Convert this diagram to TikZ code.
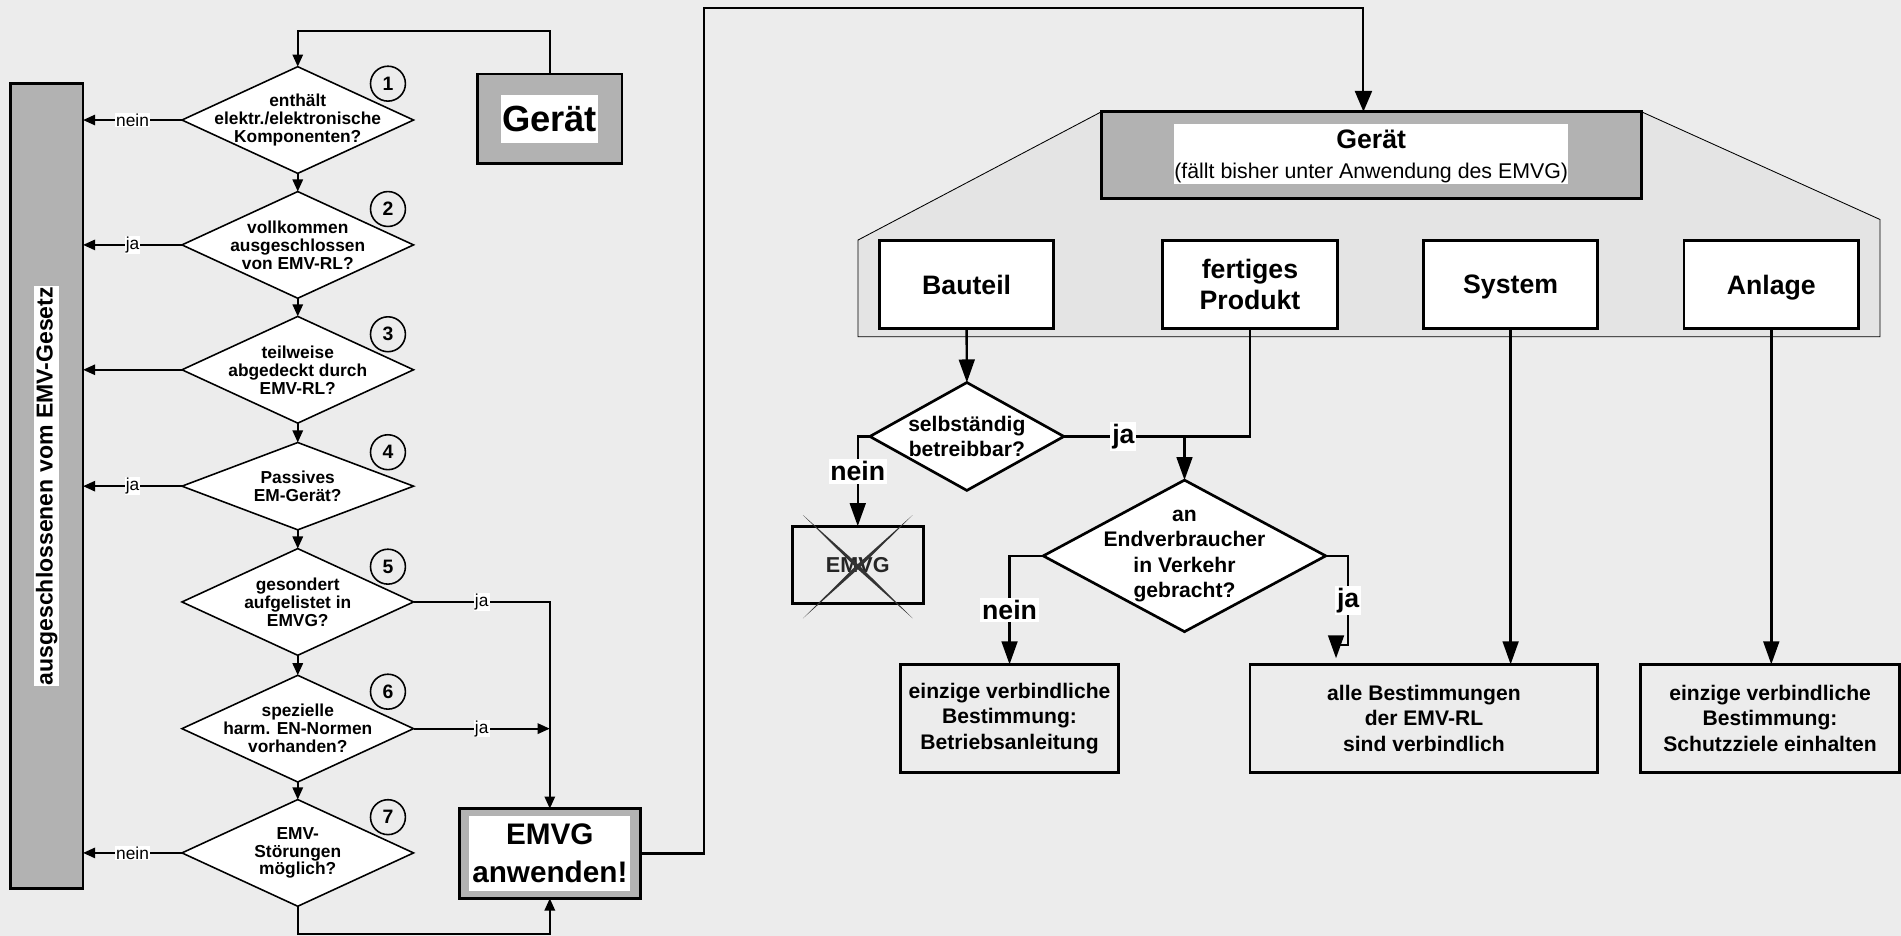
\documentclass[tikz,border=0pt]{standalone}
\usepackage{fontspec}
\setmainfont{Liberation Sans}
\usetikzlibrary{shapes.geometric,arrows.meta,calc}
\definecolor{bg}{RGB}{236,236,236}
\definecolor{trapc}{RGB}{228,228,228}
\definecolor{boxgray}{RGB}{178,178,178}
\newcommand{\fsz}[2]{\fontsize{#1}{#2}\selectfont}
\tikzset{
  dia/.style={diamond, draw, fill=white, line width=1.3pt, inner sep=0pt, outer sep=0pt, minimum width=191pt, minimum height=88pt},
  dtxt/.style={align=center, inner sep=0pt, font=\bfseries\fsz{14.3}{14.8}},
  slab/.style={fill=white, inner xsep=1pt, inner ysep=0.5pt, font=\fsz{14.3}{15}},
  larr/.style={line width=1.7pt, -{Triangle[length=10pt,width=8.5pt]}},
  num/.style={circle, draw, line width=1.3pt, fill=bg, minimum size=28.8pt, inner sep=0pt, font=\bfseries\fsz{16}{16}},
  graybox/.style={draw, fill=boxgray, line width=2.4pt, inner sep=0pt, outer sep=0pt},
  rbox/.style={draw, fill=white, line width=2.4pt, inner sep=0pt, outer sep=0pt, minimum width=144pt, minimum height=72.5pt, align=center, font=\bfseries\fsz{22}{26}},
  resbox/.style={draw, line width=2.4pt, inner sep=0pt, outer sep=0pt, minimum height=89pt, align=center, font=\bfseries\fsz{17.4}{21}},
  rdia/.style={diamond, draw, fill=white, line width=2.2pt, inner sep=0pt, outer sep=0pt},
  rtxt/.style={align=center, inner sep=0pt, font=\bfseries\fsz{17.4}{21}},
  rarr/.style={line width=2pt, -{Triangle[length=19pt,width=13pt]}},
  rline/.style={line width=2pt},
  rlab/.style={fill=white, inner xsep=1.5pt, inner ysep=2pt, font=\bfseries\fsz{22}{22}},
}
\begin{document}
\begin{tikzpicture}[x=1pt,y=-1pt]
\path[use as bounding box, fill=bg] (0,0) rectangle (1568,772);

% ---------- left part ----------
\node[graybox, line width=2.2pt, minimum width=60pt, minimum height=664pt] (bar) at (38.5,401) {};
\node[fill=white, rotate=90, inner xsep=1pt, inner ysep=1.5pt, font=\bfseries\fsz{19}{19}] (bartxt) at (bar.center) {ausgeschlossenen vom EMV-Gesetz};

\node[dia, label={[dtxt]center:{enthält\\elektr./elektronische\\Komponenten?}}] (d1) at (245.6,99) {};
\node[dia, label={[dtxt]center:{vollkommen\\ausgeschlossen\\von EMV-RL?}}] (d2) at (245.6,202) {};
\node[dia, label={[dtxt]center:{teilweise\\abgedeckt durch\\EMV-RL?}}] (d3) at (245.6,305) {};
\node[dia, minimum height=72pt, label={[dtxt]center:{Passives\\EM-Gerät?}}] (d4) at (245.6,401) {};
\node[dia, label={[dtxt]center:{gesondert\\aufgelistet in\\EMVG?}}] (d5) at (245.6,496.5) {};
\node[dia, label={[dtxt]center:{spezielle\\harm. EN-Normen\\vorhanden?}}] (d6) at (245.6,601) {};
\node[dia, label={[dtxt]center:{EMV-\\Störungen\\möglich?}}] (d7) at (245.6,703.5) {};

\foreach \i/\y in {1/69,2/172.4,3/275.7,4/373,5/467.4,6/570.5,7/674}
  \node[num] (n\i) at (320,\y) {\i};

\foreach \a/\b in {d1/d2,d2/d3,d3/d4,d4/d5,d5/d6,d6/d7}
  \draw[larr] (\a.south) -- (\b.north);

\draw[larr] (d1.west) -- node[slab]{nein} (bar.east |- d1.west);
\draw[larr] (d2.west) -- node[slab]{ja} (bar.east |- d2.west);
\draw[larr] (d3.west) -- (bar.east |- d3.west);
\draw[larr] (d4.west) -- node[slab]{ja} (bar.east |- d4.west);
\draw[larr] (d7.west) -- node[slab]{nein} (bar.east |- d7.west);

\node[graybox, minimum width=119.5pt, minimum height=74pt] (g1) at (453.3,98) {};
\node[fill=white, inner xsep=1pt, inner ysep=0pt, minimum height=40pt, font=\bfseries\fsz{30}{30}] (g1t) at (g1.center) {Gerät};
\draw[larr] (g1.north) -- ++(0,-35.7) -| (d1.north);

\node[graybox, minimum width=149pt, minimum height=74pt] (emvg) at (453.5,704) {};
\node[fill=white, inner sep=0pt, minimum width=133pt, minimum height=62pt, align=center, font=\bfseries\fsz{24.5}{31}] (emvgt) at (emvg.center) {EMVG\\anwenden!};

\draw[larr] (d5.east) -- node[slab]{ja} (emvg.north |- d5.east) -- (emvg.north);
\draw[larr] (d6.east) -- node[slab]{ja} (emvg.north |- d6.east);
\draw[larr] (d7.south) -- ++(0,23) -| (emvg.south);

% ---------- right part ----------
\draw[fill=trapc, line width=0.7pt] (707.7,277.7) -- (707.7,198) -- (908.8,92) -- (1353.5,92) -- (1550.6,181) -- (1550.6,277.7) -- cycle;

\node[graybox, line width=2.5pt, minimum width=444.7pt, minimum height=71.5pt] (g2) at (1131.2,127.8) {};
\node[fill=white, inner sep=0pt, minimum width=325pt, minimum height=50pt] (g2t) at (1131,127) {};
\node[inner sep=0pt, align=center, font=\fsz{17.6}{24}] (g2txt) at (1131,129) {{\bfseries\fsz{22}{24}Gerät}\\(fällt bisher unter Anwendung des EMVG)};

\coordinate (c1) at (581,6.9);
\draw[line width=1.7pt, -{Triangle[length=17pt,width=14pt]}] (emvg.east) -| (c1) -| ([xshift=-6.6pt]g2.north);

\node[rbox, text depth=0pt] (bauteil) at (797.3,234.6) {Bauteil};
\node[rbox] (fertig) at (1031,234.6) {fertiges\\Produkt};
\node[rbox, text depth=0pt] (system) at (1246,234.6) {System};
\node[rbox, text depth=0pt] (anlage) at (1461,234.6) {Anlage};

\node[rdia, minimum width=160pt, minimum height=89pt, label={[rtxt]center:{selbständig\\betreibbar?}}] (s1) at (797.5,360) {};
\node[rdia, minimum width=233pt, minimum height=125pt, label={[rtxt]center:{an\\Endverbraucher\\in Verkehr\\gebracht?}}] (s2) at (977,458.5) {};

\node[draw, line width=2.4pt, inner sep=0pt, outer sep=0pt, minimum width=108pt, minimum height=64pt, text=black!85, font=\bfseries\fsz{17.8}{18}] (x1) at (707.5,466) {EMVG};
\fill[black!80] (662.3,424.8) -- (706.45,468.56) -- (752.8,510) -- (708.65,466.24) -- cycle;
\fill[black!80] (752.8,424.8) -- (708.65,468.56) -- (662.3,510) -- (706.45,466.24) -- cycle;

\node[resbox, minimum width=179.5pt] (b1) at (832.7,592.5) {einzige verbindliche\\Bestimmung:\\Betriebsanleitung};
\node[resbox, minimum width=287pt] (b2) at (1174.5,592.5) {alle Bestimmungen\\der EMV-RL\\sind verbindlich};
\node[resbox, minimum width=214pt] (b3) at (1460,592.5) {einzige verbindliche\\Bestimmung:\\Schutzziele einhalten};

\draw[rarr] (bauteil.south) -- (s1.north);
\draw[rline] (s1.east) -- node[pos=0.32, rlab]{ja} (fertig.south |- s1.east) -- (fertig.south);
\coordinate (j1) at (s2.north |- s1.east);
\draw[rarr] (j1) -- (s2.north);
\draw[rarr] (s1.west) -- (x1.north |- s1.west) -- node[pos=0.39, rlab]{nein} (x1.north);
\draw[rarr] (s2.west) -- (b1.north |- s2.west) -- node[rlab]{nein} (b1.north);
\coordinate (k1) at (1112,532);
\coordinate (k2) at (1102,532);
\coordinate (k3) at (1102,543);
\draw[rarr] (s2.east) -| node[pos=0.75, rlab]{ja} (k1) -- (k2) -- (k3);
\draw[rarr] (system.south) -- (system.south |- b2.north);
\draw[rarr] (anlage.south) -- (anlage.south |- b3.north);
\end{tikzpicture}
\end{document}
